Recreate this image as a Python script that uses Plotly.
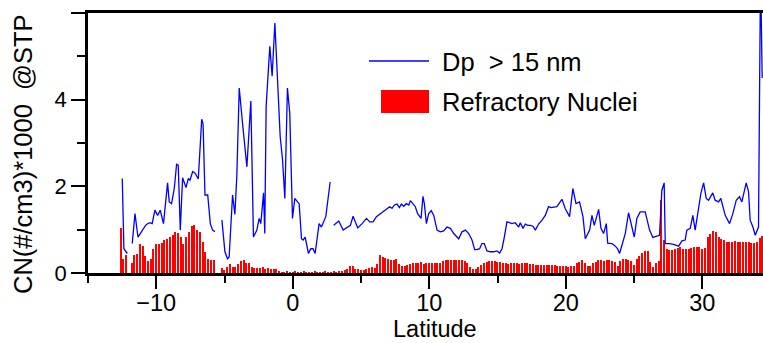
import numpy as np
import plotly.graph_objects as go

# Condensation nuclei (Dp > 15 nm), thousands per cm3 at STP; None marks data gaps
cn_lat = [
    -12.49, -12.37, -12.12, None,
    -11.76, -11.56, -11.34, -11.03, -10.78, -10.66, -10.47, -10.3, -10.1, -9.9,
    -9.71, -9.47, -9.17, -9.05, -8.88, -8.68, -8.51, -8.39, -8.24, -8.07, -7.82,
    -7.65, -7.53, -7.33, -7.14, -6.92, -6.67, -6.57, -6.43, -6.23, -6.04, -5.87,
    -5.7, None,
    -5.19, -4.97, -4.78, -4.66, -4.41, -4.24, -4.1, -3.92, -3.68, -3.36, -3.07,
    -2.88, -2.63, -2.46, -2.34, -2.14, -2.05, -1.95, -1.68, -1.51, -1.31, -1.12,
    -0.92, -0.75, -0.58, -0.39, -0.22, -0.02, 0.15, 0.35, 0.47, 0.64, 0.76, 0.91,
    1.03, 1.15, 1.32, 1.49, 1.64, 1.93, 2.1, 2.42, 2.74, None,
    3.0, 3.37, 3.69, 3.98, 4.22, 4.42, 4.76, 5.08, 5.4, 5.64, 5.88, 6.13, 6.42,
    6.66, 6.91, 7.1, 7.27, 7.45, 7.64, 7.81, 7.96, 8.13, 8.32, 8.5, 8.62, 8.81,
    8.98, 9.15, 9.3, 9.4, 9.54, 9.64, 9.79, 9.96, 10.15, 10.33, 10.57, 10.81,
    11.06, 11.3, 11.55, 11.79, 12.16, 12.4, 12.65, 12.89, 13.13, 13.33, 13.5,
    13.69, 13.86, 14.03, 14.23, 14.47, 14.72, 14.96, 15.16, 15.33, 15.5, 15.69,
    15.82, 16.06, 16.3, 16.55, 16.67, 16.87, 17.04, 17.21, 17.4, 17.6, 17.77,
    18.01, 18.26, 18.5, 18.74, 18.92, 19.35, 19.72, 19.96, 20.28, 20.52, 20.75,
    21.01, 21.26, 21.43, 21.75, 21.92, 22.09, 22.41, 22.58, 22.77, 22.97, 23.07,
    23.38, 23.63, 23.8, 23.94, 24.19, 24.36, 24.6, 24.85, 25.02, 25.21, 25.45,
    25.82, 26.14, 26.38, 26.63, 26.87, 27.04, 27.21, 27.29, 27.61, 27.9, 28.27,
    28.51, 28.75, 28.87, 29.12, 29.31, 29.48, 29.73, 29.9, 30.1, 30.29, 30.46,
    30.77, 30.94, 31.19, 31.36, 31.68, 32.0, 32.24, 32.49, 32.73, 32.9, 33.07,
    33.22, 33.39, 33.51, 33.71, 33.88, 34.12, 34.27, 34.39,
]
cn_val = [
    2.18, 0.56, 0.45, None,
    0.68, 1.37, 0.83, 0.99, 1.10, 1.13, 1.16, 1.14, 1.45, 1.33,
    1.45, 1.14, 2.08, 1.64, 1.60, 1.95, 2.51, 2.49, 0.99, 2.20, 1.97,
    2.18, 2.14, 2.34, 2.30, 2.17, 3.55, 3.44, 1.80, 1.80, 1.14, 0.99,
    0.95, None,
    1.22, 0.49, 0.33, 0.37, 1.80, 1.35, 2.22, 4.27, 3.46, 2.45, 3.97,
    0.83, 0.99, 1.26, 1.14, 1.85, 0.91, 3.84, 5.23, 4.54, 5.77, 4.38,
    3.15, 2.62, 1.72, 4.27, 3.69, 1.26, 1.72, 1.64, 1.60, 0.79, 0.76, 0.83,
    0.60, 0.45, 0.56, 0.56, 0.45, 1.14, 1.06, 1.30, 2.10, None,
    1.10, 1.20, 0.99, 1.06, 1.10, 1.31, 1.04, 1.14, 1.26, 1.18, 1.18, 1.30, 1.37,
    1.44, 1.49, 1.53, 1.49, 1.57, 1.59, 1.51, 1.59, 1.54, 1.60, 1.57, 1.67, 1.59,
    1.53, 1.37, 1.30, 1.26, 1.77, 1.60, 1.14, 1.37, 1.44, 1.33, 0.99, 0.95,
    0.97, 1.06, 1.03, 0.91, 0.79, 0.95, 0.99, 0.91, 0.76, 0.54, 0.54,
    0.56, 0.68, 0.68, 0.51, 0.49, 0.49, 0.51, 0.46, 0.56, 0.83, 1.18,
    1.17, 1.14, 1.16, 1.06, 1.16, 1.03, 1.13, 1.10, 1.10, 1.08, 0.99,
    1.13, 1.22, 1.33, 1.53, 1.51, 1.53, 1.70, 1.49, 1.30, 1.95, 1.60,
    1.64, 1.30, 0.79, 0.99, 1.33, 1.10, 1.47, 1.03, 0.91, 1.14, 0.69,
    0.68, 0.62, 0.56, 0.45, 0.76, 0.91, 1.39, 1.06, 0.83, 1.26, 1.41,
    1.41, 0.99, 0.82, 0.85, 0.87, 1.91, 2.08, 0.68, 0.68, 0.66, 0.62,
    0.74, 0.76, 0.99, 1.03, 1.33, 0.99, 1.49, 1.84, 2.08, 1.72, 1.68,
    1.85, 1.68, 1.64, 1.72, 1.33, 1.14, 1.37, 1.68, 1.76, 1.64, 1.85,
    2.08, 1.88, 1.22, 1.06, 0.87, 1.06, 7.00, 4.50,
]

# Refractory nuclei, sampled every 0.2 degree of latitude starting at 12.6 S
rn_lat_start = -12.6
rn_lat_step = 0.2
rn_val = [
    1.03, 0.33, 0.42, 0.00, 0.22, 0.41, 0.45, 0.66, 0.62, 0.40,
    0.27, 0.33, 0.55, 0.67, 0.66, 0.69, 0.76, 0.79, 0.84, 0.88,
    0.95, 0.93, 0.82, 0.68, 0.82, 0.95, 1.08, 1.10, 0.99, 0.95,
    0.72, 0.49, 0.32, 0.29, 0.29, 0.00, 0.00, 0.12, 0.08, 0.14,
    0.20, 0.15, 0.14, 0.20, 0.28, 0.30, 0.24, 0.24, 0.15, 0.12,
    0.11, 0.11, 0.13, 0.09, 0.11, 0.09, 0.10, 0.10, 0.05, 0.02,
    0.02, 0.03, 0.02, 0.02, 0.03, 0.02, 0.02, 0.03, 0.02, 0.02,
    0.02, 0.03, 0.02, 0.02, 0.02, 0.03, 0.02, 0.02, 0.03, 0.02,
    0.03, 0.04, 0.07, 0.10, 0.16, 0.16, 0.10, 0.09, 0.07, 0.08,
    0.10, 0.11, 0.14, 0.11, 0.20, 0.41, 0.38, 0.35, 0.33, 0.31,
    0.30, 0.33, 0.20, 0.16, 0.17, 0.18, 0.21, 0.24, 0.24, 0.22,
    0.25, 0.21, 0.22, 0.22, 0.24, 0.22, 0.23, 0.24, 0.28, 0.30,
    0.29, 0.30, 0.31, 0.30, 0.29, 0.30, 0.28, 0.22, 0.13, 0.10,
    0.10, 0.14, 0.18, 0.22, 0.25, 0.28, 0.28, 0.27, 0.26, 0.25,
    0.24, 0.22, 0.21, 0.22, 0.22, 0.22, 0.20, 0.22, 0.22, 0.22,
    0.21, 0.20, 0.19, 0.19, 0.19, 0.19, 0.18, 0.19, 0.18, 0.18,
    0.17, 0.17, 0.16, 0.16, 0.15, 0.16, 0.17, 0.22, 0.25, 0.29,
    0.24, 0.17, 0.16, 0.22, 0.26, 0.29, 0.29, 0.28, 0.29, 0.29,
    0.28, 0.26, 0.16, 0.28, 0.32, 0.33, 0.31, 0.27, 0.18, 0.32,
    0.40, 0.46, 0.51, 0.51, 0.25, 0.14, 0.22, 0.28, 1.68, 0.76,
    0.55, 0.53, 0.54, 0.55, 0.57, 0.60, 0.55, 0.56, 0.56, 0.58,
    0.59, 0.60, 0.60, 0.56, 0.58, 0.82, 0.90, 0.98, 0.95, 0.84,
    0.78, 0.76, 0.72, 0.72, 0.72, 0.73, 0.72, 0.71, 0.72, 0.72,
    0.71, 0.70, 0.69, 0.72, 0.80, 0.85,
]
rn_lat = np.round(rn_lat_start + rn_lat_step * np.arange(len(rn_val)), 2)

x_ticks = [-10, 0, 10, 20, 30]
x_minor = [-15, -5, 5, 15, 25]
y_ticks = [0, 2, 4, 6]
y_tick_text = ["0", "2", "4", ""]
y_minor = [1, 3, 5]

legend_line_label = "Dp\u00a0\u00a0> 15 nm"
legend_bar_label = "Refractory Nuclei"
x_title = "Latitude"
y_title = "CN(#/cm3)*1000\u00a0 @STP"

W, H = 763, 343
ML, MR, MT, MB = 88, 0, 13, 70
PW, PH = W - ML - MR, H - MT - MB


def px(x):
    return (x - ML) / PW


def py(y):
    return (H - MB - y) / PH


FONT = "Liberation Sans, Arial, sans-serif"

fig = go.Figure()
fig.add_trace(go.Bar(
    x=rn_lat, y=rn_val, width=0.085,
    marker=dict(color="#ff0000", line=dict(width=0)),
    showlegend=False,
))
fig.add_trace(go.Scatter(
    x=cn_lat, y=cn_val, mode="lines",
    line=dict(color="#0000ff", width=1.3),
    connectgaps=False, showlegend=False,
))

# legend drawn by hand: a line sample and a filled block
fig.add_shape(type="line", xref="paper", yref="paper",
              x0=px(369), x1=px(429), y0=py(61), y1=py(61),
              line=dict(color="#0000ff", width=1.3))
fig.add_shape(type="rect", xref="paper", yref="paper",
              x0=px(381), x1=px(429), y0=py(113), y1=py(90),
              line=dict(width=0), fillcolor="#ff0000")
fig.add_annotation(xref="paper", yref="paper", x=px(440), y=py(62),
                   text=legend_line_label, showarrow=False,
                   xanchor="left", yanchor="middle",
                   font=dict(family=FONT, size=25.5, color="black"))
fig.add_annotation(xref="paper", yref="paper", x=px(440), y=py(102),
                   text=legend_bar_label, showarrow=False,
                   xanchor="left", yanchor="middle",
                   font=dict(family=FONT, size=25.5, color="black"))

# axis titles
fig.add_annotation(xref="paper", yref="paper", x=px(435), y=py(329),
                   text=x_title, showarrow=False,
                   xanchor="center", yanchor="middle",
                   font=dict(family=FONT, size=23.5, color="black"))
fig.add_annotation(xref="paper", yref="paper", x=px(23), y=py(154),
                   text=y_title, showarrow=False, textangle=-90,
                   xanchor="center", yanchor="middle",
                   font=dict(family=FONT, size=25.5, color="black"))

fig.update_layout(
    width=W, height=H,
    margin=dict(l=ML, r=MR, t=MT, b=MB, pad=0),
    paper_bgcolor="white", plot_bgcolor="white",
    bargap=0,
    font=dict(family=FONT, color="black"),
    xaxis=dict(
        range=[-15, 34.45], showgrid=False, zeroline=False,
        showline=True, linecolor="black", linewidth=2.5, mirror=True,
        tickmode="array", tickvals=x_ticks,
        ticks="outside", ticklen=13, tickwidth=2, tickcolor="black",
        ticklabelstandoff=-6,
        tickfont=dict(family=FONT, size=23.5, color="black"),
        minor=dict(tickmode="array", tickvals=x_minor,
                   ticks="outside", ticklen=7, tickwidth=2,
                   tickcolor="black", showgrid=False),
    ),
    yaxis=dict(
        range=[0, 6], showgrid=False, zeroline=False,
        showline=True, linecolor="black", linewidth=2.5, mirror=False,
        tickmode="array", tickvals=y_ticks, ticktext=y_tick_text,
        ticks="outside", ticklen=14, tickwidth=2, tickcolor="black",
        tickfont=dict(family=FONT, size=22, color="black"),
        minor=dict(tickmode="array", tickvals=y_minor,
                   ticks="outside", ticklen=8, tickwidth=2,
                   tickcolor="black", showgrid=False),
    ),
)

fig.write_html("out.html")
